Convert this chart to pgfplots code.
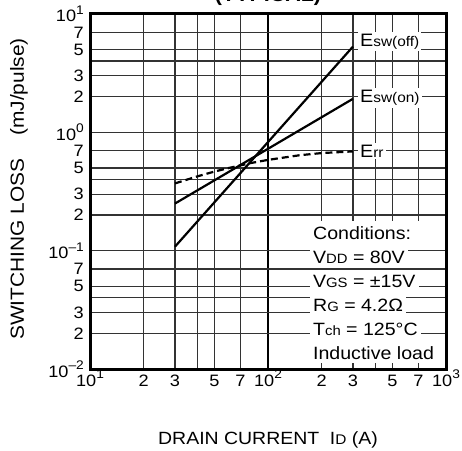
\documentclass[border=0pt]{standalone}
\usepackage{pgfplots}
\pgfplotsset{compat=1.18}
\usepackage{fontspec}
\setmainfont[FakeStretch=1.1]{Liberation Sans}

\newcommand{\tsup}[1]{\raisebox{7.5pt}{\fontsize{12.5}{12.5}\selectfont #1}}
\newcommand{\lsub}[1]{{\fontsize{14}{14}\selectfont #1}}
\newcommand{\csub}[1]{{\fontsize{13.5}{13.5}\selectfont #1}}
\tikzset{gridv/.style={black!80, line width=1.2pt}}

\begin{document}
\begin{tikzpicture}
\begin{axis}[
    set layers,
    scale only axis,
    width=356pt, height=355pt,
    xmode=log, ymode=log,
    xmin=10, xmax=1000, ymin=0.01, ymax=10,
    axis line style={line width=3pt},
    tick style={draw=none},
    xtick={10,20,30,50,70,100,200,300,500,700,1000},
    xticklabels={10\tsup{1},2,3,5,7,10\tsup{2},2,3,5,7,10\tsup{3}},
    ytick={0.01,0.02,0.03,0.05,0.07,0.1,0.2,0.3,0.5,0.7,1,2,3,5,7,10},
    yticklabels={10\tsup{–2},2,3,5,7,10\tsup{–1},2,3,5,7,10\tsup{0},2,3,5,7,10\tsup{1}},
    minor ytick={0.04,0.4,4},
    ymajorgrids, yminorgrids,
    major grid style={black!80, line width=1.2pt},
    minor grid style={black!80, line width=1.2pt},
    extra y ticks={0.1,1},
    extra y tick labels={},
    extra y tick style={grid style={black, line width=1.8pt}},
    every tick label/.append style={font=\fontsize{16.5}{16.5}\selectfont},
    xticklabel style={anchor=base, yshift=-17pt},
    yticklabel style={inner xsep=6pt},
]
\begin{pgfonlayer}{axis background}
  \draw[gridv] (axis cs:20,0.01) -- (axis cs:20,10);
  \draw[gridv] (axis cs:30,0.01) -- (axis cs:30,10);
  \draw[gridv] (axis cs:40,0.01) -- (axis cs:40,10);
  \draw[gridv] (axis cs:50,0.01) -- (axis cs:50,10);
  \draw[gridv] (axis cs:70,0.01) -- (axis cs:70,10);
  \draw[black, line width=1.8pt] (axis cs:100,0.01) -- (axis cs:100,10);
  \draw[gridv] (axis cs:200,0.01) -- (axis cs:200,10);
  \draw[gridv] (axis cs:300,0.01) -- (axis cs:300,10);
  \draw[gridv] (axis cs:400,0.01) -- (axis cs:400,10);
  \draw[gridv] (axis cs:500,0.01) -- (axis cs:500,10);
  \draw[gridv] (axis cs:700,0.01) -- (axis cs:700,10);
  \fill[white] (axis cs:172,0.01122) rectangle (axis cs:925,0.178);
\end{pgfonlayer}

% Esw(off)
\addplot[black, line width=2.2pt] coordinates {(30,0.108) (300,5.3)};
% Esw(on)
\addplot[black, line width=2.2pt] coordinates {(30,0.25) (300,1.92)};
% Err
\addplot[black, line width=2.2pt, dash pattern=on 7pt off 4pt] coordinates {
  (30,0.370) (40,0.424) (50,0.466) (60,0.499) (80,0.550)
  (100,0.585) (150,0.640) (200,0.668) (300,0.690)};

\tikzset{lbl/.style={anchor=base west, fill=white, inner sep=2pt, font=\fontsize{18}{18}\selectfont}}
\node[lbl] at (axis cs:320,5.36) {E\lsub{sw(off)}};
\node[lbl] at (axis cs:320,1.78) {E\lsub{sw(on)}};
\node[lbl] at (axis cs:320,0.615) {E\lsub{rr}};

\tikzset{cond/.style={anchor=base west, fill=white, inner xsep=3pt, inner ysep=2pt, font=\fontsize{17.8}{17.8}\selectfont}}
\node[cond] at (axis cs:172,0.1246) {Conditions:};
\node[cond] at (axis cs:172,0.0781) {V\csub{DD} = 80V};
\node[cond] at (axis cs:172,0.04895) {V\csub{GS} = ±15V};
\node[cond] at (axis cs:172,0.03068) {R\csub{G} = 4.2Ω};
\node[cond] at (axis cs:172,0.01923) {T\csub{ch} = 125°C};
\node[cond] at (axis cs:172,0.01206) {Inductive load};
\end{axis}

\node[anchor=base, font=\bfseries\fontsize{19.5}{19.5}\selectfont] at (178pt,367pt) {(TYPICAL)};
\node[anchor=base, font=\fontsize{17.7}{17.7}\selectfont] at (178pt,-75pt) {DRAIN CURRENT\hspace{0.6em}I\lsub{D} (A)};
\node[anchor=base, rotate=90, font=\fontsize{19}{19}\selectfont] at (-66pt,180pt) {SWITCHING LOSS\hspace{1.2em}(mJ/pulse)};

\pgfresetboundingbox
\useasboundingbox (-90pt,-81pt) rectangle (372pt,369pt);
\end{tikzpicture}
\end{document}
